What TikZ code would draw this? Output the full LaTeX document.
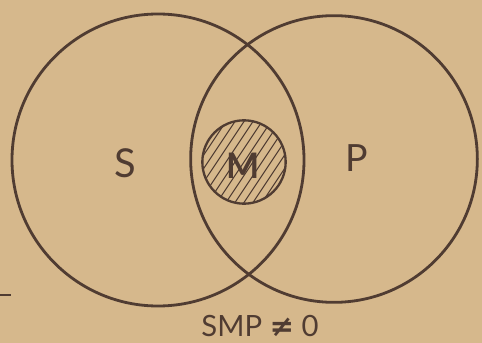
\documentclass[tikz,border=0pt]{standalone}
\usepackage{fontspec}
\setmainfont{Lato}
\newfontfamily\symfont{DejaVu Sans}
\usetikzlibrary{positioning}
\definecolor{paper}{RGB}{214,184,140}
\definecolor{ink}{RGB}{80,60,50}

\begin{document}
\begin{tikzpicture}[
    x=0.03cm, y=-0.03cm,
    set/.style={draw=ink, line width=2.4pt, circle, inner sep=0pt},
    term/.style={text=ink, inner sep=0pt, font=\fontsize{34}{34}\selectfont},
    hatch/.style={draw=ink, line width=0.9pt}]
    \fill[paper] (0,0) rectangle (482,343);
    \useasboundingbox (0,0) rectangle (482,343);
    \node[set, minimum size=8.76cm] (Sset) at (158,160) {};
    \node[set, minimum size=8.6cm] (Pset) at (334,159) {};
    \node[set, line width=2pt, minimum size=2.5cm] (Mset) at (244,162) {};
    % hatching of the middle term
    \begin{scope}
      \clip (Mset.center) circle[radius=1.25cm];
      \foreach \d in {-72,-63,...,72}
        \draw[hatch] ([shift={(\d-40,60)}]Mset.center) -- ([shift={(\d+40,-60)}]Mset.center);
    \end{scope}
    \node[term] (S) at (125,163) {S};
    \node[term, font=\fontsize{32}{32}\selectfont] (P) at (357,158) {P};
    \node[term, font=\bfseries\fontsize{30}{30}\selectfont] (M) at (243,166) {M};
    \node[term, font=\fontsize{25}{25}\selectfont] (rel) at (260,326)
      {SMP {\symfont\bfseries ≠} 0};
    \draw[ink, line width=1.6pt] (0,295) -- (11,295);
\end{tikzpicture}
\end{document}
